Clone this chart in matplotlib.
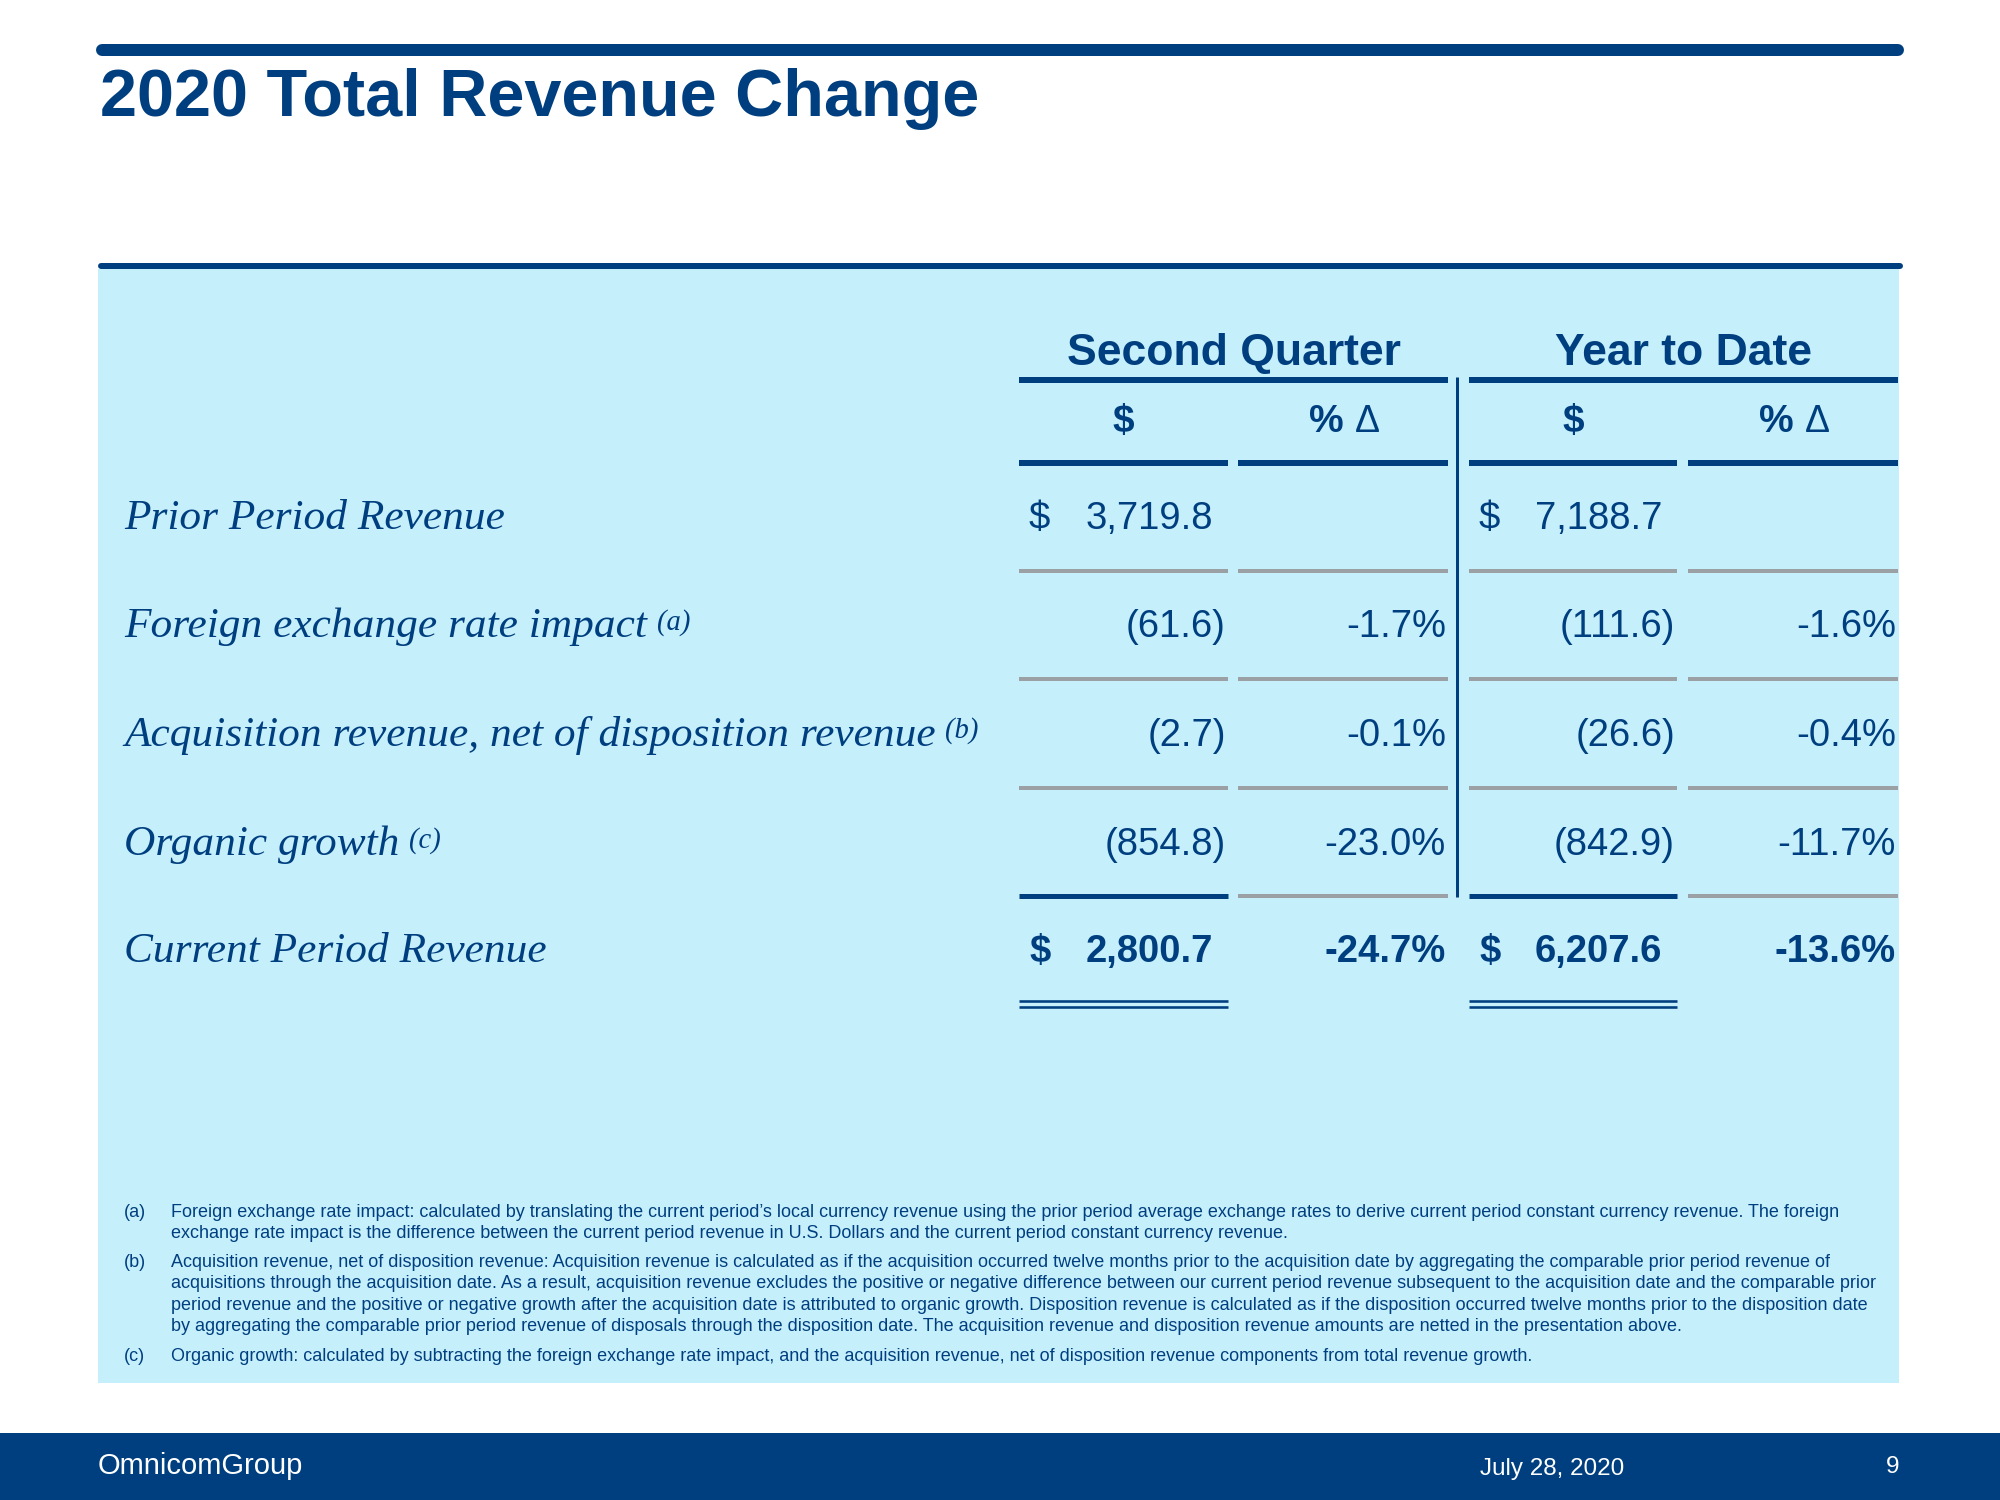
import matplotlib
matplotlib.use("Agg")
import matplotlib.pyplot as plt
from matplotlib.patches import Rectangle

# ---------------- data ----------------
title = "2020 Total Revenue Change"
group_headers = ["Second Quarter", "Year to Date"]
sub_headers = ["$", "%", "$", "%"]
sub_header_suffix = ["", "\u0394", "", "\u0394"]
row_labels = ["Prior Period Revenue",
              "Foreign exchange rate impact",
              "Acquisition revenue, net of disposition revenue",
              "Organic growth",
              "Current Period Revenue"]
row_notes = ["", "(a)", "(b)", "(c)", ""]
q2_usd = [3719.8, -61.6, -2.7, -854.8, 2800.7]
q2_pct = [None, -1.7, -0.1, -23.0, -24.7]
ytd_usd = [7188.7, -111.6, -26.6, -842.9, 6207.6]
ytd_pct = [None, -1.6, -0.4, -11.7, -13.6]
show_dollar = [True, False, False, False, True]
bold_row = [False, False, False, False, True]

footnote_keys = ["(a)", "(b)", "(c)"]
footnote_lines = [
    ["Foreign exchange rate impact: calculated by translating the current period\u2019s local currency revenue using the prior period average exchange rates to derive current period constant currency revenue. The foreign",
     "exchange rate impact is the difference between the current period revenue in U.S. Dollars and the current period constant currency revenue."],
    ["Acquisition revenue, net of disposition revenue: Acquisition revenue is calculated as if the acquisition occurred twelve months prior to the acquisition date by aggregating the comparable prior period revenue of",
     "acquisitions through the acquisition date. As a result, acquisition revenue excludes the positive or negative difference between our current period revenue subsequent to the acquisition date and the comparable prior",
     "period revenue and the positive or negative growth after the acquisition date is attributed to organic growth. Disposition revenue is calculated as if the disposition occurred twelve months prior to the disposition date",
     "by aggregating the comparable prior period revenue of disposals through the disposition date. The acquisition revenue and disposition revenue amounts are netted in the presentation above."],
    ["Organic growth: calculated by subtracting the foreign exchange rate impact, and the acquisition revenue, net of disposition revenue components from total revenue growth."],
]
footer_left = "OmnicomGroup"
footer_date = "July 28, 2020"
page_no = "9"

# ---------------- style ----------------
NAVY = "#003F7F"
BOX = "#C6EFFC"
GRAY = "#9BA0A4"
SANS = ["Liberation Sans", "DejaVu Sans"]
SERIF = ["Liberation Serif", "DejaVu Serif"]
PX = 0.72  # points per pixel at dpi 100

fig = plt.figure(figsize=(20, 15), dpi=100)
ax = fig.add_axes([0, 0, 1, 1])
ax.set_xlim(0, 2000)
ax.set_ylim(1500, 0)
ax.axis("off")
renderer = fig.canvas.get_renderer()


def fit_width(t, target):
    bb = t.get_window_extent(renderer)
    t.set_fontsize(t.get_fontsize() * target / bb.width)


# top rule, title, second rule
ax.plot([102, 1898], [50, 50], color=NAVY, lw=12 * PX, solid_capstyle="round")
ax.text(100, 116, title, fontsize=48, fontweight="bold", color=NAVY,
        family=SANS, va="baseline", ha="left")
ax.plot([101, 1900], [266, 266], color=NAVY, lw=6 * PX, solid_capstyle="round")

# light blue panel
ax.add_patch(Rectangle((98, 269), 1801, 1114, facecolor=BOX, edgecolor="none", zorder=0))

# column geometry
col_l = [1019, 1238, 1469, 1688]
col_r = [1228, 1448, 1677, 1898]
grp_l = [1019, 1469]
grp_r = [1448, 1898]

# group headers
for g, name in enumerate(group_headers):
    ax.text((grp_l[g] + grp_r[g]) / 2, 365, name, fontsize=32, fontweight="bold",
            color=NAVY, family=SANS, ha="center", va="baseline")
    ax.plot([grp_l[g], grp_r[g]], [380, 380], color=NAVY, lw=6 * PX, solid_capstyle="butt")

# sub headers
for c, name in enumerate(sub_headers):
    cx = (col_l[c] + col_r[c]) / 2
    if sub_header_suffix[c]:
        ax.text(cx + 1, 432, name, fontsize=28, fontweight="bold",
                color=NAVY, family=SANS, ha="right", va="baseline")
        ax.text(cx + 12, 432, sub_header_suffix[c], fontsize=27, fontweight="normal",
                color=NAVY, family=SANS, ha="left", va="baseline")
    else:
        ax.text(cx, 432, name, fontsize=28, fontweight="bold",
                color=NAVY, family=SANS, ha="center", va="baseline")
    ax.plot([col_l[c], col_r[c]], [463, 463], color=NAVY, lw=6 * PX, solid_capstyle="butt")

# vertical divider
ax.plot([1457, 1457], [377, 897], color=NAVY, lw=3 * PX, solid_capstyle="butt")

row_base = [529, 637, 746, 855, 962]
line_y = [571, 679, 788, 896]
VAL_FS = 27.5


def fmt_usd(v):
    if v < 0:
        return "({:,.1f})".format(-v)
    return "{:,.1f}".format(v)


def fmt_pct(v):
    return "{:.1f}%".format(v)


# row labels
label_artists = []
for i, lab in enumerate(row_labels):
    t = ax.text(124, row_base[i], lab, fontsize=30, style="italic", color=NAVY,
                family=SERIF, ha="left", va="baseline")
    label_artists.append(t)
fit_width(label_artists[2], 812)
fs_lab = label_artists[2].get_fontsize()
for t in label_artists:
    t.set_fontsize(fs_lab)
for i, note in enumerate(row_notes):
    if note:
        ax.annotate(note, xy=(1, 0.97), xycoords=label_artists[i], xytext=(7, 0),
                    textcoords="offset points", fontsize=fs_lab * 0.66, style="italic",
                    color=NAVY, family=SERIF, ha="left", va="top")

# values
usd_cols = [(0, q2_usd), (2, ytd_usd)]
pct_cols = [(1, q2_pct), (3, ytd_pct)]
for i in range(len(row_labels)):
    w = "bold" if bold_row[i] else "normal"
    for c, series in usd_cols:
        v = series[i]
        xr = col_r[c] - 2 if v < 0 else col_r[c] - 15
        ax.text(xr, row_base[i], fmt_usd(v), fontsize=VAL_FS, fontweight=w,
                color=NAVY, family=SANS, ha="right", va="baseline")
        if show_dollar[i]:
            ax.text(col_l[c] + 10, row_base[i], "$", fontsize=VAL_FS, fontweight=w,
                    color=NAVY, family=SANS, ha="left", va="baseline")
    for c, series in pct_cols:
        v = series[i]
        if v is None:
            continue
        ax.text(col_r[c] - 2, row_base[i], fmt_pct(v), fontsize=VAL_FS, fontweight=w,
                color=NAVY, family=SANS, ha="right", va="baseline")

# row separators
for k, y in enumerate(line_y):
    for c in range(4):
        colr = NAVY if (k == 3 and c in (0, 2)) else GRAY
        lw = 5 if colr == NAVY else 4
        ax.plot([col_l[c], col_r[c]], [y, y], color=colr, lw=lw * PX, solid_capstyle="butt")
# double underline for totals
for c in (0, 2):
    for y in (1001, 1007):
        ax.plot([col_l[c], col_r[c]], [y, y], color=NAVY, lw=2.6 * PX, solid_capstyle="butt")

# footnotes
fn_base = [[1217, 1238], [1267, 1288, 1310, 1331], [1361]]
fn_texts = []
key_texts = []
for k, lines in enumerate(footnote_lines):
    kt = ax.text(124, fn_base[k][0], footnote_keys[k], fontsize=11.5, color=NAVY,
                 family=SANS, ha="left", va="baseline")
    key_texts.append(kt)
    for j, line in enumerate(lines):
        t = ax.text(171, fn_base[k][j], line, fontsize=11.5, color=NAVY,
                    family=SANS, ha="left", va="baseline")
        fn_texts.append(t)
fit_width(fn_texts[0], 1671)
fs_fn = fn_texts[0].get_fontsize()
for t in fn_texts + key_texts:
    t.set_fontsize(fs_fn)

# footer band
ax.add_patch(Rectangle((0, 1433), 2000, 67, facecolor=NAVY, edgecolor="none", zorder=0))
ax.text(98, 1474, footer_left, fontsize=21, color="white", family=SANS,
        ha="left", va="baseline")
ax.text(1552, 1475, footer_date, fontsize=17.5, color="white", family=SANS,
        ha="center", va="baseline")
ax.text(1893, 1473, page_no, fontsize=17.5, color="white", family=SANS,
        ha="center", va="baseline")

fig.savefig("out.png", dpi=100, facecolor="white")
